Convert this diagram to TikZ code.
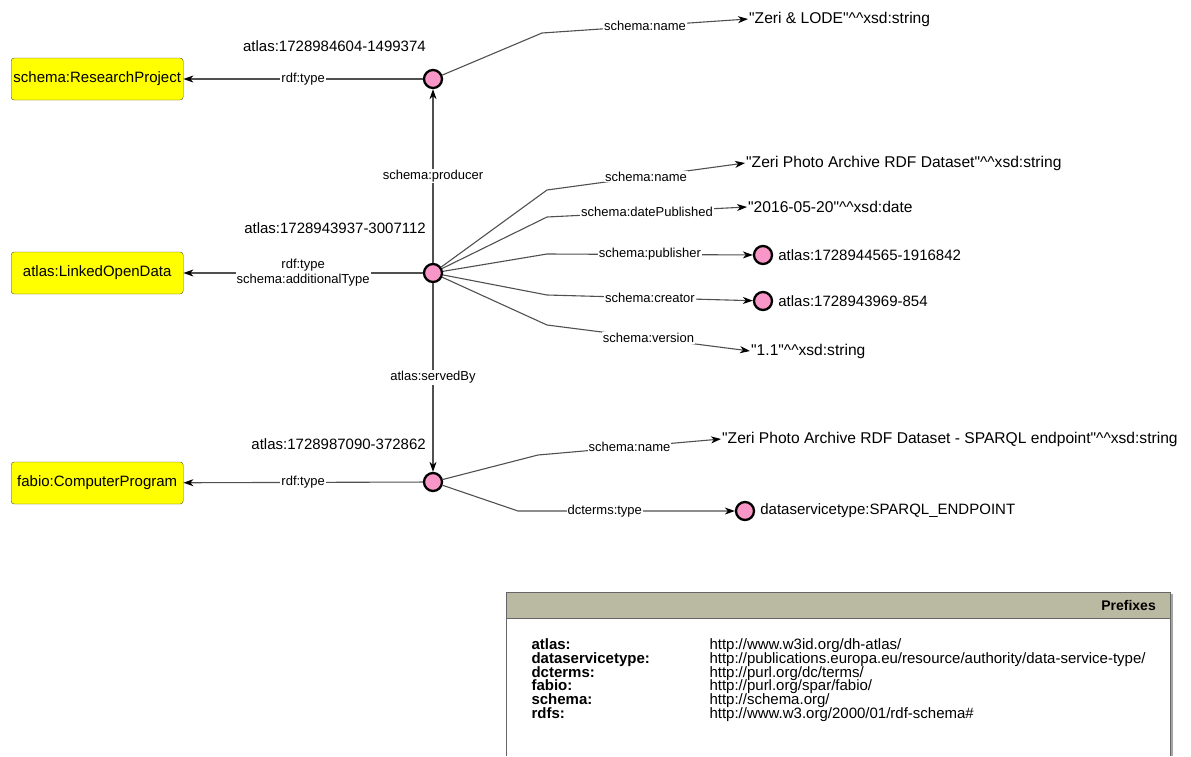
\documentclass[tikz,border=0pt]{standalone}
\usepackage{fontspec}
\setmainfont{Liberation Sans}
\usetikzlibrary{positioning,arrows.meta,matrix}

\definecolor{respink}{RGB}{248,150,200}
\definecolor{classyellow}{RGB}{255,255,0}
\definecolor{linegray}{RGB}{80,80,80}
\definecolor{prefixhead}{RGB}{186,186,162}

\newcommand{\dtype}{\textasciicircum\textasciicircum}
\newcommand{\qt}{\textquotedbl}

\tikzset{
  res/.style={circle,draw=black,line width=2.3pt,fill=respink,minimum size=18pt,inner sep=0pt},
  cls/.style={draw=black!70,fill=classyellow,rounded corners=3pt,minimum width=172pt,minimum height=42pt,
    inner sep=2pt,font=\fontsize{15}{18}\selectfont},
  iri/.style={anchor=east,inner sep=0pt,font=\fontsize{15}{18}\selectfont},
  lit/.style={anchor=west,inner sep=1pt,font=\fontsize{15.6}{18}\selectfont},
  prop/.style={fill=white,inner sep=1pt,font=\fontsize{13}{15}\selectfont},
  rel/.style={draw=linegray,line width=1.1pt},
  arr/.style={-{Stealth[length=10pt,width=7pt,inset=3pt,color=black]}},
}

\begin{document}
\begin{tikzpicture}[x=1pt,y=-1pt]
  \useasboundingbox (0,0) rectangle (1191,756);

  % classes
  \node[cls,anchor=west] (project) at (11,79) {schema:ResearchProject};
  \node[cls,anchor=west] (lod) at (11,273) {atlas:LinkedOpenData};
  \node[cls,anchor=west] (program) at (11,483) {fabio:ComputerProgram};

  % resources
  \node[res] (proj) at (433,79) {};
  \node[res] (dataset) at (433,273) {};
  \node[res] (endpoint) at (433,482) {};
  \node[iri] (projid) at (426,46) {atlas:1728984604-1499374};
  \node[iri] (datasetid) at (426,228) {atlas:1728943937-3007112};
  \node[iri] (endpointid) at (426,444) {atlas:1728987090-372862};

  \node[res] (publisher) at (763,255) {};
  \node[res] (creator) at (763,301) {};
  \node[res] (sparql) at (745,511) {};
  \node[iri,anchor=west,right=5pt of publisher] (publisherid) {atlas:1728944565-1916842};
  \node[iri,anchor=west,right=5pt of creator] (creatorid) {atlas:1728943969-854};
  \node[iri,anchor=west,right=5pt of sparql] (sparqlid) {dataservicetype:SPARQL\_ENDPOINT};

  % literals
  \node[lit] (projname) at (748,19) {\qt Zeri \& LODE\qt\dtype xsd:string};
  \node[lit] (dsname) at (745,163) {\qt Zeri Photo Archive RDF Dataset\qt\dtype xsd:string};
  \node[lit] (dsdate) at (747,207) {\qt 2016-05-20\qt\dtype xsd:date};
  \node[lit] (dsversion) at (750,351) {\qt 1.1\qt\dtype xsd:string};
  \node[lit] (epname) at (721,439) {\qt Zeri Photo Archive RDF Dataset - SPARQL endpoint\qt\dtype xsd:string};

  % straight links
  \path[rel,arr]
    (proj) edge node[prop] {rdf:type} (project)
    (dataset) edge node[prop,align=center] {rdf:type\\schema:additionalType} (lod)
    (dataset) edge node[prop] {schema:producer} (proj)
    (dataset) edge node[prop] {atlas:servedBy} (endpoint)
    (endpoint) edge node[prop] {rdf:type} (program);

  % bent links
  \draw[rel,arr] (proj) -- (542,33) -- node[prop] {schema:name} (projname.west);
  \draw[rel,arr] (dataset) -- (547,190) -- node[prop] {schema:name} (dsname.west);
  \draw[rel,arr] (dataset) -- (547,217) -- node[prop] {schema:datePublished} (dsdate.west);
  \draw[rel,arr] (dataset) -- (547,254) -- node[prop] {schema:publisher} (publisher);
  \draw[rel,arr] (dataset) -- (547,295) -- node[prop] {schema:creator} (creator);
  \draw[rel,arr] (dataset) -- (547,325) -- node[prop] {schema:version} (dsversion.west);
  \draw[rel,arr] (endpoint) -- (538,455) -- node[prop] {schema:name} (epname.west);
  \draw[rel,arr] (endpoint) -- (518,511) -- node[prop,pos=0.4] {dcterms:type} (sparql);

  % prefixes
  \fill[white] (506,592) rectangle (1170,756);
  \draw[black!60] (506,756) -- (506,592) -- (1170,592) -- (1170,756);
  \draw[black!35,line width=2pt] (1172,594) -- (1172,756);
  \filldraw[fill=prefixhead,draw=black!60] (506,592) rectangle (1170,618);
  \node[anchor=east,inner sep=0pt,font=\bfseries\fontsize{14}{16}\selectfont] (pfxtitle) at (1156,605) {Prefixes};
  \matrix (pfx) [matrix of nodes,anchor=north west,row sep=0.8pt,column sep=0pt,
    nodes={inner sep=0pt,text height=10pt,text depth=3pt,font=\fontsize{15}{16}\selectfont,anchor=base west},
    column 1/.style={nodes={text width=178pt,align=left,font=\bfseries\fontsize{15}{16}\selectfont}}]
    at (528,636) {
    atlas: & http://www.w3id.org/dh-atlas/ \\
    dataservicetype: & http://publications.europa.eu/resource/authority/data-service-type/ \\
    dcterms: & http://purl.org/dc/terms/ \\
    fabio: & http://purl.org/spar/fabio/ \\
    schema: & http://schema.org/ \\
    rdfs: & http://www.w3.org/2000/01/rdf-schema\# \\
  };
\end{tikzpicture}
\end{document}
